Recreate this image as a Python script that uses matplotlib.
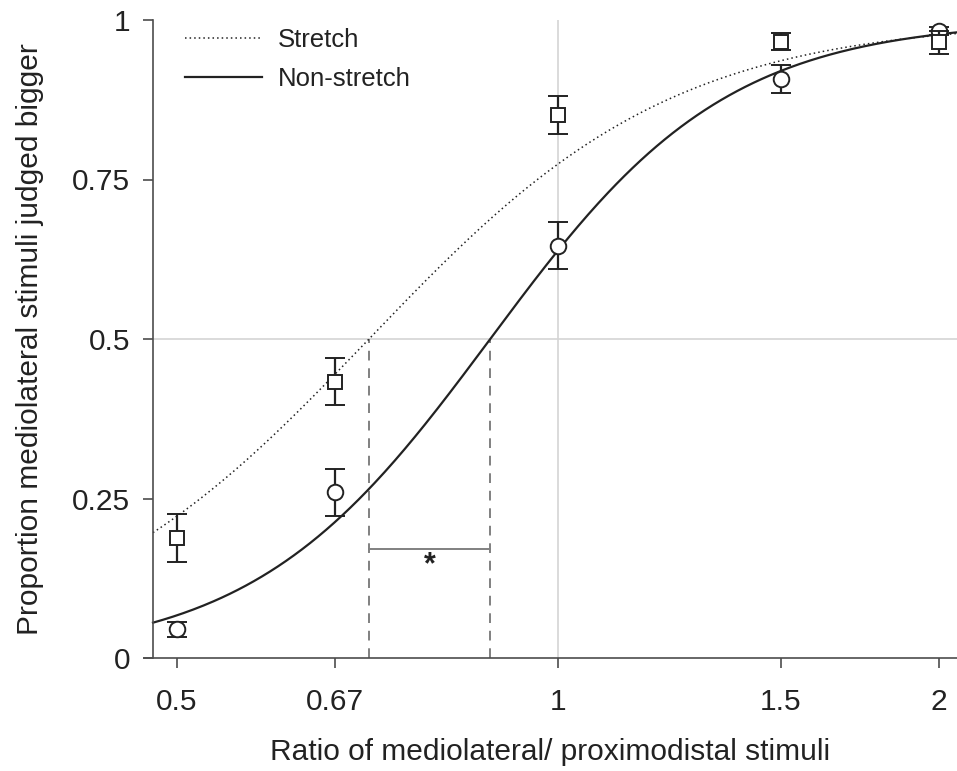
import numpy as np
import matplotlib
matplotlib.use("Agg")
import matplotlib.pyplot as plt

plt.rcParams['font.family'] = ['Liberation Sans', 'DejaVu Sans']

# ---- data ----
ratios = [0.5, 2/3, 1.0, 1.5, 2.0]
tick_labels = ['0.5', '0.67', '1', '1.5', '2']
yticks = [0, 0.25, 0.5, 0.75, 1]
ytick_labels = ['0', '0.25', '0.5', '0.75', '1']

stretch_mean = [0.188, 0.433, 0.851, 0.966, 0.965]
stretch_err = [0.037, 0.037, 0.030, 0.013, 0.018]
nonstretch_mean = [0.045, 0.260, 0.646, 0.908, 0.983]
nonstretch_err = [0.012, 0.037, 0.037, 0.022, 0.006]

# fitted logistic (in log2 ratio): PSE and spread
stretch_pse, stretch_spread = 0.709, 0.4025
nonstretch_pse, nonstretch_spread = 0.884, 0.312
bracket_y = 0.171

W, H = 957, 771
fig = plt.figure(figsize=(W / 100, H / 100), dpi=100)
ax = fig.add_axes([144 / W, (H - 658) / H, (957 - 144) / W, (658 - 20) / H])

ax.set_xscale('log')
x_left = 2 ** ((144 - 558) / 381)
x_right = 2 ** ((957 - 558) / 381)
x_spine = 2 ** ((153 - 558) / 381)
ax.set_xlim(x_left, x_right)
ax.set_ylim(0, 1)

ink = '#222222'
grid_c = '#d4d4d4'

# reference lines
ax.plot([x_spine, x_right], [0.5, 0.5], color=grid_c, lw=1.2, zorder=1)
ax.axvline(1.0, color=grid_c, lw=1.2, zorder=1)


def logistic(x, pse, s):
    return 1 / (1 + np.exp(-(np.log2(x) - np.log2(pse)) / s))


xs = np.geomspace(x_spine, x_right, 400)
ax.plot(xs, logistic(xs, stretch_pse, stretch_spread), color=ink, lw=1.1,
        linestyle=(0, (1, 2)), label='Stretch', zorder=2)
ax.plot(xs, logistic(xs, nonstretch_pse, nonstretch_spread), color=ink, lw=1.6,
        label='Non-stretch', zorder=2)

# PSE dashed lines and bracket
dash_c = '#808080'
for p in (stretch_pse, nonstretch_pse):
    ax.plot([p, p], [0, 0.5], color=dash_c, lw=1.4, linestyle=(0, (5, 4)), zorder=1)
ax.plot([stretch_pse, nonstretch_pse], [bracket_y, bracket_y], color=dash_c, lw=1.4, zorder=1)
ax.text(np.sqrt(stretch_pse * nonstretch_pse), 0.145, '*', ha='center', va='center',
        fontsize=22, fontweight='bold', color=ink)

# data with error bars
ax.errorbar(ratios, nonstretch_mean, yerr=nonstretch_err, fmt='o', ms=11.2,
            mfc='white', mec=ink, mew=1.4, ecolor=ink, elinewidth=1.6,
            capsize=7, capthick=1.6, zorder=4, clip_on=False)
ax.errorbar(ratios, stretch_mean, yerr=stretch_err, fmt='s', ms=9.6,
            mfc='white', mec=ink, mew=1.4, ecolor=ink, elinewidth=1.6,
            capsize=7, capthick=1.6, zorder=5, clip_on=False)

# axes styling
ax.set_xticks(ratios)
ax.set_xticklabels(tick_labels)
ax.xaxis.set_minor_locator(matplotlib.ticker.NullLocator())
ax.set_yticks(yticks)
ax.set_yticklabels(ytick_labels)

for s in ('top', 'right'):
    ax.spines[s].set_visible(False)
spine_c = '#4d4d4d'
ax.spines['left'].set_position(('axes', 9 / (957 - 144)))
for s in ('left', 'bottom'):
    ax.spines[s].set_color(spine_c)
    ax.spines[s].set_linewidth(1.2)
ax.tick_params(axis='both', direction='out', length=7.5, width=1.2, color=spine_c,
               labelsize=21.5, labelcolor=ink)
ax.tick_params(axis='x', pad=14)
ax.tick_params(axis='y', pad=9)

ax.set_xlabel('Ratio of mediolateral/ proximodistal stimuli', fontsize=21.5,
              color=ink, labelpad=16)
ax.set_ylabel('Proportion mediolateral stimuli judged bigger', fontsize=21.5,
              color=ink, labelpad=20)

leg = ax.legend(loc='upper left', bbox_to_anchor=(185 / W, 1 - 28 / H),
                bbox_transform=fig.transFigure, frameon=False, fontsize=18.5,
                handlelength=3.0, handletextpad=0.6, labelspacing=0.6,
                borderpad=0, borderaxespad=0)
for t in leg.get_texts():
    t.set_color(ink)

fig.savefig('out.png', dpi=100)
